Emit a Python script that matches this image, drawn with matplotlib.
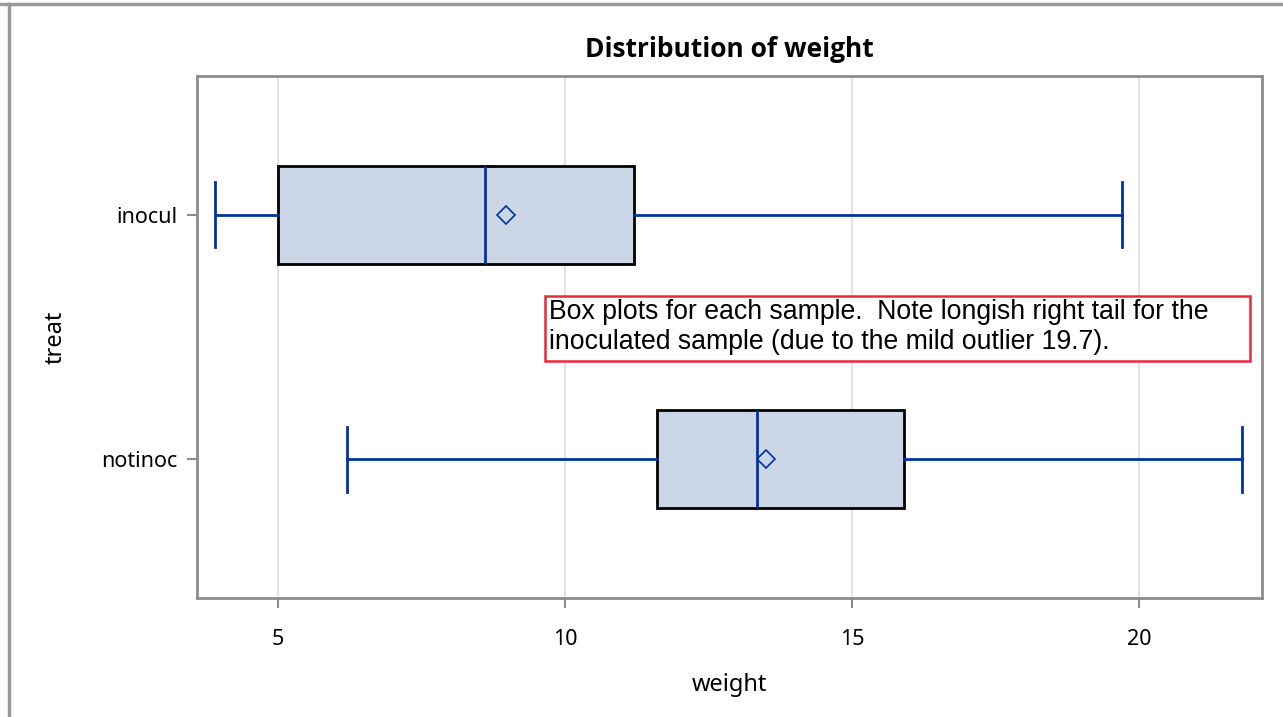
import matplotlib
matplotlib.use("Agg")
import matplotlib.pyplot as plt
from matplotlib.lines import Line2D
from matplotlib.patches import Rectangle

# ---- data ----
categories = ["inocul", "notinoc"]
whislo = [3.9, 6.2]
q1 = [5.0, 11.6]
med = [8.6, 13.35]
mean = [8.98, 13.5]
q3 = [11.2, 15.9]
whishi = [19.7, 21.8]
xticks = [5, 10, 15, 20]
note = ("Box plots for each sample.  Note longish right tail for the\n"
        "inoculated sample (due to the mild outlier 19.7).")

BLUE = "#0033A0"
FILL = "#CAD5E5"
FRAME = "#8C8C8C"
FONT = ["Noto Sans", "DejaVu Sans"]
W, H = 1283, 717

plt.rcParams["font.family"] = FONT

fig = plt.figure(figsize=(W / 100, H / 100), dpi=100)
ax = fig.add_axes([197/W, 1-598/H, (1262-197)/W, (598-76)/H])

stats = []
for i, c in enumerate(categories):
    stats.append(dict(label=c, whislo=whislo[i], q1=q1[i], med=med[i],
                      mean=mean[i], q3=q3[i], whishi=whishi[i], fliers=[]))

ax.bxp(stats, positions=list(range(len(categories))), vert=False,
       widths=0.4, patch_artist=True, showmeans=True,
       boxprops=dict(facecolor=FILL, edgecolor="black", linewidth=2),
       medianprops=dict(color=BLUE, linewidth=2),
       whiskerprops=dict(color=BLUE, linewidth=2),
       capprops=dict(color=BLUE, linewidth=2),
       capwidths=0.265,
       meanprops=dict(marker="D", markersize=9, markerfacecolor="none",
                      markeredgecolor=BLUE, markeredgewidth=1.2),
       zorder=3)

ax.set_xlim(3.59, 22.14)
ax.set_ylim(len(categories) - 1 + 0.567, -0.567)
ax.set_xticks(xticks)
ax.set_xticklabels([str(t) for t in xticks])
ax.set_yticks(range(len(categories)))
ax.set_yticklabels(categories)
ax.grid(axis="x", color="#E3E3E3", linewidth=1.5, zorder=0)
ax.set_axisbelow(True)
for s in ax.spines.values():
    s.set_color(FRAME)
    s.set_linewidth(2)
ax.tick_params(axis="both", colors=FRAME, labelcolor="black", length=7,
               width=1.5, labelsize=15.5)
ax.tick_params(axis="x", pad=15)
ax.tick_params(axis="y", pad=7)

ax.set_xlabel("weight", fontsize=17, labelpad=17)
ax.set_ylabel("treat", fontsize=17, labelpad=24)
ax.set_title("Distribution of weight", fontsize=19, fontweight="bold", pad=14,
             family=["Open Sans", "Lato", "DejaVu Sans"])

# annotation box and text (figure coordinates)
fig.add_artist(Rectangle((545/W, 1-361/H), (1250-545)/W, (361-296)/H,
                         transform=fig.transFigure, facecolor="white",
                         edgecolor="#E8283E", linewidth=1.8, zorder=5))
fig.text(549/W, 1-327/H, note, fontsize=19.2,
         family=["Liberation Sans", "DejaVu Sans"],
         ha="left", va="center", linespacing=1.2, zorder=6)

# outer page frame lines (top and left)
fig.add_artist(Line2D([0, 1], [1 - 4/H, 1 - 4/H], color="#999999", linewidth=2.5,
                      transform=fig.transFigure))
fig.add_artist(Line2D([8.5/W, 8.5/W], [0, 1 - 4/H], color="#999999", linewidth=2.5,
                      transform=fig.transFigure))

fig.savefig("out.png", dpi=100)
